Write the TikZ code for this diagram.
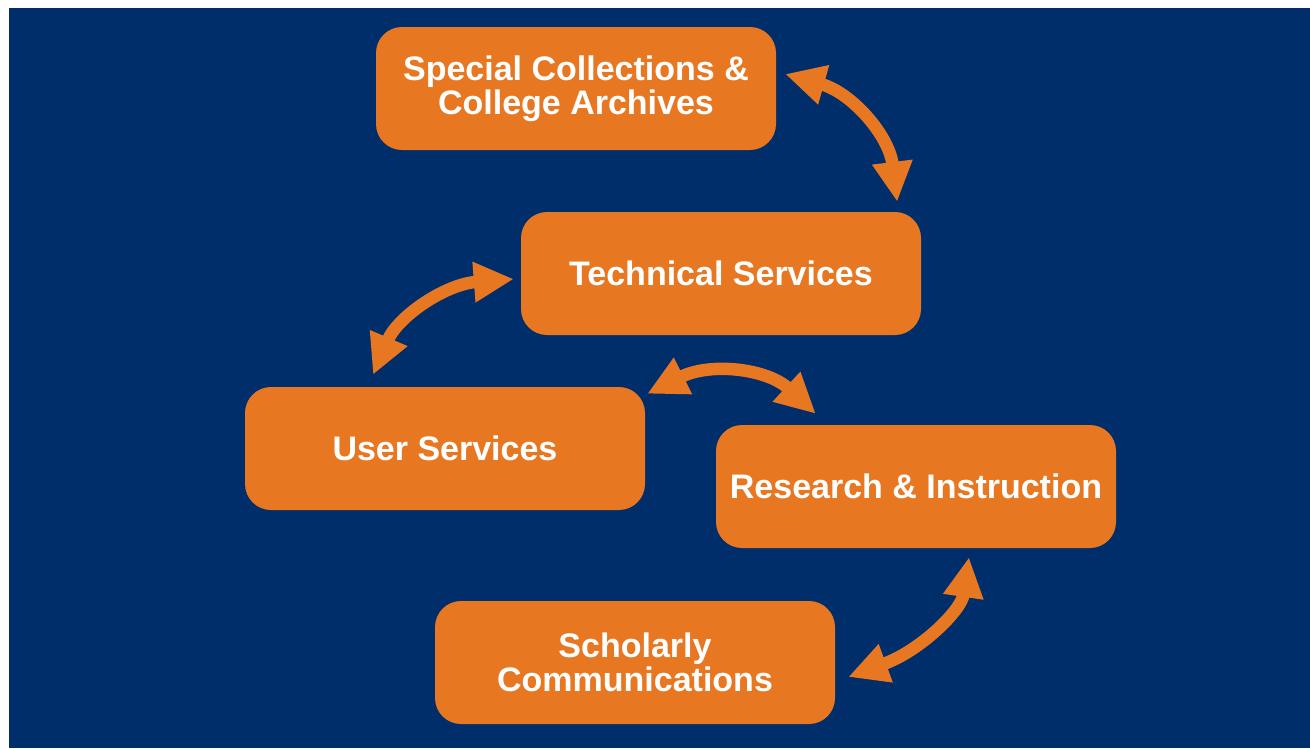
\documentclass[tikz,border=0pt]{standalone}
\usepackage{fontspec}
\setmainfont{Liberation Sans}
\usetikzlibrary{arrows.meta,calc}
\definecolor{bgblue}{RGB}{0,46,107}
\definecolor{boxorange}{RGB}{232,119,34}
\tikzset{
  unitbox/.style={fill=boxorange, rounded corners=26pt, minimum width=400pt, minimum height=123pt,
    inner sep=0pt, align=center, text=white,
    font=\fontsize{34}{34}\selectfont\bfseries},
  link/.style={draw=boxorange, line width=12.5pt,
    {Triangle[length=40pt,width=38pt]}-{Triangle[length=40pt,width=38pt]}}
}
\begin{document}
\begin{tikzpicture}[x=1pt,y=-1pt]
\useasboundingbox (0,0) rectangle (1310,748);
\fill[bgblue] (9,8) rectangle (1310,748);
\node[unitbox] (sc) at (576,88.5) {Special Collections \&\\College Archives};
\node[unitbox] (ts) at (721,273.5) {Technical Services};
\node[unitbox] (us) at (445,448.5) {User Services};
\node[unitbox] (ri) at (916,486.5) {Research \& Instruction};
\node[unitbox] (scm) at (635,662.5) {Scholarly\\Communications};
\coordinate (a1s) at ($(sc.east)+(9,-14.5)$);
\coordinate (a1e) at ($(ts.north east)+(-24,-10)$);
\coordinate (a2s) at ($(ts.west)+(-7,5.5)$);
\coordinate (a2e) at ($(us.north)+(-72,-12)$);
\coordinate (a3s) at ($(us.north east)+(2,7)$);
\coordinate (a3e) at ($(ri.north west)+(100,-11)$);
\coordinate (a4s) at ($(scm.east)+(13,14.5)$);
\coordinate (a4e) at ($(ri.south)+(53,9)$);
\draw[link] (a1s) .. controls (851.7,92.7) and (889,135.3) .. (a1e);
\draw[link] (a2s) .. controls (445,284.3) and (398,316.3) .. (a2e);
\draw[link] (a3s) .. controls (710.7,362) and (767,368.7) .. (a3e);
\draw[link] (a4s) .. controls (921,650.3) and (961.3,610.3) .. (a4e);
\end{tikzpicture}
\end{document}
